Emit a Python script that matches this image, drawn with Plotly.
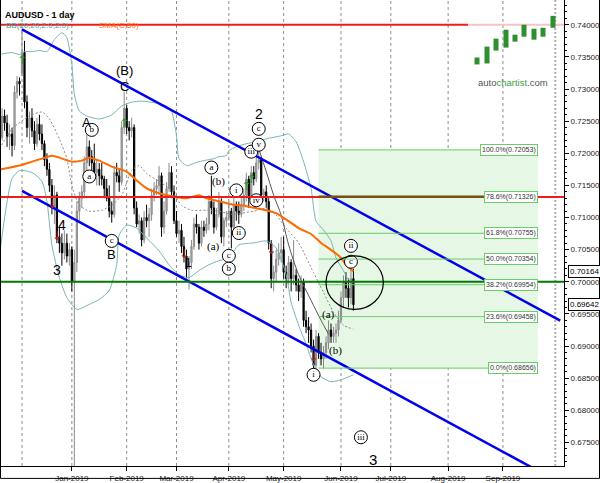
import pandas as pd
import plotly.graph_objects as go

# ---------------- calendar (trading days, weekends + 2 holidays removed) ----------------
HOLIDAYS = ["2018-12-25", "2019-01-01"]
cal = [d.strftime("%Y-%m-%d") for d in pd.bdate_range("2018-11-19", "2019-10-31")
       if d.strftime("%Y-%m-%d") not in HOLIDAYS]
ORIGIN = cal.index("2018-12-03")
pos = {d: i - ORIGIN for i, d in enumerate(cal)}
LAST_BAR = "2019-06-10"
bar_dates = [d for d in cal if d <= LAST_BAR]

# ---------------- OHLC ----------------
opens = [
    .7290, .7305, .7225, .7258, .7247, .7226, .7230, .7212, .7295, .7312,
    .7325, .7357, .7280, .7240, .7255, .7235, .7215, .7245, .7230, .7215,
    .7190, .7175, .7150, .7115, .7135, .7070, .7060, .7045, .7060, .7040,
    .7050, .7000, .7030, .7110, .7130, .7140, .7185, .7210, .7195, .7185, .7170,
    .7175, .7165, .7160, .7145, .7130, .7110, .7105, .7170, .7165, .7155, .7240,
    .7270, .7240, .7235, .7240, .7115, .7090, .7095, .7065, .7100, .7095,
    .7105, .7135, .7145, .7150, .7165, .7085, .7110, .7145, .7170, .7140,
    .7095, .7075, .7080, .7055, .7040, .7020, .7030, .7055, .7090, .7085, .7060,
    .7085, .7080, .7090, .7125, .7115, .7085, .7105, .7125, .7070, .7095,
    .7100, .7110, .7085, .7120, .7110, .7105, .7120, .7135, .7160, .7130, .7170,
    .7160, .7185, .7190, .7135, .7140, .7125, .7060, .7005, .7015, .7035, .7045,
    .7050, .7015, .7005, .7030, .7005, .7010, .6995, .6985, .7000, .6940, .6930, .6925,
    .6900, .6870, .6915, .6890, .6880, .6890, .6905, .6925, .6915, .6920, .6925,
    .6940, .6975, .7000, .6990, .6975, .7005,
]
highs = [
    .7315, .7310, .7270, .7268, .7260, .7245, .7240, .7305, .7320, .7318,
    .7394, .7375, .7290, .7265, .7270, .7250, .7255, .7260, .7245, .7220,
    .7200, .7185, .7160, .7150, .7140, .7085, .7075, .7080, .7075, .7060,
    .7055, .7050, .7125, .7140, .7150, .7195, .7236, .7220, .7205, .7215, .7190,
    .7185, .7185, .7165, .7160, .7150, .7125, .7180, .7185, .7175, .7250, .7296,
    .7275, .7250, .7255, .7245, .7125, .7105, .7100, .7110, .7120, .7115,
    .7145, .7155, .7160, .7180, .7170, .7125, .7155, .7185, .7180, .7150,
    .7110, .7095, .7090, .7070, .7050, .7040, .7065, .7100, .7105, .7090, .7095,
    .7095, .7100, .7135, .7165, .7125, .7115, .7140, .7130, .7100, .7110,
    .7125, .7115, .7135, .7125, .7125, .7130, .7145, .7170, .7165, .7180, .7180,
    .7195, .7206, .7195, .7145, .7150, .7130, .7065, .7025, .7050, .7060, .7070,
    .7070, .7025, .7040, .7035, .7065, .7020, .7005, .7010, .7005, .6955, .6945, .6935,
    .6910, .6925, .6920, .6905, .6900, .6915, .6940, .6935, .6930, .6935, .6955,
    .6985, .7010, .7015, .7005, .7020, .7020,
]
lows = [
    .7270, .7215, .7220, .7235, .7210, .7205, .7195, .7205, .7285, .7290,
    .7320, .7270, .7225, .7215, .7225, .7205, .7210, .7220, .7205, .7180,
    .7165, .7140, .7105, .7090, .7060, .7045, .7025, .7035, .7030, .7025,
    .6985, .6712, .7015, .7095, .7115, .7130, .7170, .7180, .7165, .7160, .7150,
    .7150, .7150, .7130, .7125, .7100, .7092, .7100, .7155, .7140, .7150, .7230,
    .7230, .7220, .7225, .7105, .7085, .7075, .7055, .7060, .7085, .7070,
    .7095, .7125, .7135, .7135, .7070, .7075, .7105, .7140, .7130, .7090,
    .7070, .7060, .7045, .7030, .7005, .6988, .7020, .7050, .7075, .7050, .7055,
    .7070, .7075, .7080, .7105, .7075, .7080, .7100, .7060, .7055, .7085,
    .7095, .7052, .7080, .7095, .7090, .7100, .7110, .7125, .7115, .7125, .7150,
    .7155, .7175, .7125, .7125, .7115, .7050, .6990, .6985, .7000, .7025, .7030,
    .7005, .6990, .6995, .6985, .6995, .6985, .6970, .6975, .6930, .6920, .6905, .6890,
    .6865, .6865, .6880, .6870, .6865, .6880, .6895, .6905, .6905, .6905, .6915,
    .6935, .6960, .6975, .6960, .6965, .6955,
]
closes = [
    .7305, .7225, .7258, .7247, .7226, .7230, .7212, .7295, .7312, .7308,
    .7357, .7280, .7240, .7255, .7235, .7215, .7245, .7230, .7215, .7190,
    .7175, .7150, .7115, .7135, .7070, .7060, .7045, .7060, .7040, .7050,
    .7000, .7030, .7110, .7130, .7140, .7185, .7210, .7195, .7185, .7170, .7175,
    .7165, .7160, .7145, .7130, .7110, .7105, .7170, .7165, .7155, .7240, .7270,
    .7240, .7235, .7240, .7115, .7090, .7095, .7065, .7100, .7095, .7105,
    .7135, .7145, .7150, .7165, .7085, .7110, .7145, .7170, .7140, .7095,
    .7075, .7080, .7055, .7040, .7020, .7030, .7055, .7090, .7085, .7060, .7085,
    .7080, .7090, .7125, .7115, .7085, .7105, .7125, .7070, .7095, .7100,
    .7110, .7085, .7120, .7110, .7105, .7120, .7135, .7160, .7130, .7170, .7160,
    .7185, .7190, .7135, .7140, .7125, .7060, .7005, .7015, .7035, .7045, .7050,
    .7015, .7005, .7030, .7005, .7010, .6995, .6985, .7000, .6940, .6930, .6925, .6900,
    .6870, .6915, .6890, .6880, .6890, .6905, .6925, .6915, .6920, .6925, .6940,
    .6975, .7000, .6990, .6975, .7005, .69642,
]

# ---------------- indicators ----------------
sma_dates = ["2018-11-20", "2018-11-30", "2018-12-07", "2018-12-13", "2018-12-19", "2018-12-24",
             "2019-01-02", "2019-01-08", "2019-01-11", "2019-01-17", "2019-01-24", "2019-02-01",
             "2019-02-07", "2019-02-13", "2019-02-20", "2019-02-27", "2019-03-07", "2019-03-14",
             "2019-03-19", "2019-03-26", "2019-04-02", "2019-04-10", "2019-04-16", "2019-04-22",
             "2019-04-26", "2019-05-03", "2019-05-09", "2019-05-16", "2019-05-22", "2019-05-28",
             "2019-06-03", "2019-06-05", "2019-06-10"]
sma_vals = [0.71747, 0.71809, 0.71870, 0.71917, 0.71963, 0.71932,
            0.71870, 0.71886, 0.71932, 0.71886, 0.71793, 0.71716,
            0.71577, 0.71454, 0.71377, 0.71330, 0.71299, 0.71346,
            0.71299, 0.71253, 0.71207, 0.71176, 0.71145, 0.71114,
            0.71068, 0.70944, 0.70836, 0.70744, 0.70605, 0.70497,
            0.70373, 0.70265, 0.70164]

bbu_dates = ["2018-11-20", "2018-11-27", "2018-11-30", "2018-12-04", "2018-12-07", "2018-12-12",
             "2018-12-17", "2018-12-20", "2018-12-26", "2018-12-28", "2019-01-02", "2019-01-03",
             "2019-01-07", "2019-01-10", "2019-01-17", "2019-01-24", "2019-01-30", "2019-02-05",
             "2019-02-11", "2019-02-19", "2019-02-25", "2019-02-27", "2019-03-01", "2019-03-04",
             "2019-03-07", "2019-03-14", "2019-03-22", "2019-03-26", "2019-03-29", "2019-04-01",
             "2019-04-04", "2019-04-10", "2019-04-16", "2019-04-22", "2019-04-30", "2019-05-03",
             "2019-05-08", "2019-05-13", "2019-05-16", "2019-05-20", "2019-05-23", "2019-05-28",
             "2019-05-30", "2019-06-04", "2019-06-06", "2019-06-10"]
bbu_vals = [0.73537, 0.73568, 0.73537, 0.73583, 0.73583, 0.73599,
            0.73583, 0.73769, 0.73877, 0.73799, 0.73383, 0.72920,
            0.72657, 0.72580, 0.72534, 0.72596, 0.72735, 0.72796,
            0.72812, 0.72781, 0.72735, 0.72657, 0.72272, 0.71917,
            0.71809, 0.71870, 0.71917, 0.71948, 0.71963, 0.72040,
            0.72102, 0.72148, 0.72179, 0.72225, 0.72272, 0.72302,
            0.72179, 0.71870, 0.71454, 0.70944, 0.70806, 0.70636,
            0.70373, 0.70173, 0.70034, 0.69988]

bbl_dates = ["2018-11-20", "2018-11-22", "2018-11-27", "2018-11-30", "2018-12-07", "2018-12-13",
             "2018-12-17", "2018-12-19", "2018-12-24", "2018-12-28", "2019-01-04", "2019-01-11",
             "2019-01-17", "2019-01-23", "2019-01-28", "2019-01-29", "2019-02-01", "2019-02-07",
             "2019-02-13", "2019-02-20", "2019-02-26", "2019-03-04", "2019-03-08", "2019-03-14",
             "2019-03-20", "2019-03-26", "2019-04-01", "2019-04-05", "2019-04-15", "2019-04-22",
             "2019-04-26", "2019-05-02", "2019-05-06", "2019-05-09", "2019-05-14", "2019-05-17",
             "2019-05-22", "2019-05-28", "2019-06-03", "2019-06-10"]
bbl_vals = [0.70420, 0.70991, 0.71608, 0.71731, 0.71701, 0.71562,
            0.71253, 0.70574, 0.70065, 0.69756, 0.69571, 0.69648,
            0.69725, 0.69864, 0.70265, 0.70728, 0.70883, 0.70836,
            0.70682, 0.70481, 0.70265, 0.70111, 0.70065, 0.70173,
            0.70265, 0.70327, 0.70373, 0.70574, 0.70605, 0.70636,
            0.70528, 0.70111, 0.69679, 0.69324, 0.69031, 0.68707,
            0.68522, 0.68444, 0.68475, 0.68552]

bbm_dates = ["2018-11-20", "2018-11-27", "2018-12-06", "2018-12-13", "2018-12-18", "2018-12-24",
             "2018-12-28", "2019-01-02", "2019-01-07", "2019-01-11", "2019-01-18", "2019-01-24",
             "2019-01-30", "2019-02-05", "2019-02-08", "2019-02-13", "2019-02-20", "2019-02-27",
             "2019-03-05", "2019-03-11", "2019-03-19", "2019-03-26", "2019-04-02", "2019-04-15",
             "2019-04-22", "2019-04-26", "2019-05-02", "2019-05-09", "2019-05-17", "2019-05-23",
             "2019-05-29", "2019-06-04", "2019-06-10"]
bbm_vals = [0.72071, 0.72380, 0.72580, 0.72642, 0.72534, 0.72225,
            0.71917, 0.71500, 0.71191, 0.71099, 0.71114, 0.71191,
            0.71346, 0.71731, 0.71809, 0.71685, 0.71562, 0.71423,
            0.71191, 0.71114, 0.71114, 0.71099, 0.71052, 0.71099,
            0.71145, 0.71037, 0.70836, 0.70605, 0.70142, 0.69833,
            0.69525, 0.69324, 0.69262]

curve_dates = ["2019-04-17", "2019-04-22", "2019-04-25", "2019-04-30", "2019-05-03",
               "2019-05-09", "2019-05-16", "2019-05-22", "2019-05-27"]
curve_vals = [0.72071, 0.71716, 0.71346, 0.71037, 0.70574, 0.70111, 0.69710, 0.69401, 0.69185]

# ---------------- drawn objects ----------------
chan_up_dates, chan_up_vals = ["2018-12-03", "2019-10-03"], [0.7393, 0.69395]
chan_lo_dates, chan_lo_vals = ["2018-12-03", "2019-10-03"], [0.71415, 0.66870]
red_levels = [0.74000, 0.71320]
green_level = 0.70000
fib_start, fib_end = "2019-05-21", "2019-09-20"
fib_pcts = ["100.0%", "78.6%", "61.8%", "50.0%", "38.2%", "23.6%", "0.0%"]
fib_vals = [0.72053, 0.71326, 0.70755, 0.70354, 0.69954, 0.69458, 0.68656]
sma_last, last_close = 0.70164, 0.69642
ellipse_dates, ellipse_vals = ["2019-05-24", "2019-06-26"], [0.69571, 0.70404]

big_text = ["(B)", "C", "A", "4", "3", "B", "1", "2", "3"]
big_dates = ["2019-01-31", "2019-01-31", "2019-01-10", "2018-12-26", "2018-12-21", "2019-01-24",
             "2019-03-08", "2019-04-17", "2019-06-20"]
big_vals = [0.73290, 0.73043, 0.72472, 0.70883, 0.70188, 0.70420, 0.70300, 0.72611, 0.67241]
big_size = [13, 13, 13, 14, 14, 13, 12, 14, 15]

circ_text = ["b", "a", "c", "a", "i", "iii", "v", "c", "iv", "ii", "c", "b", "ii", "c", "i", "iii"]
circ_dates = ["2019-01-14", "2019-01-11", "2019-01-24", "2019-03-21", "2019-04-04", "2019-04-12",
              "2019-04-17", "2019-04-17", "2019-04-16", "2019-04-05", "2019-04-01", "2019-04-01",
              "2019-06-07", "2019-06-07", "2019-05-17", "2019-06-13"]
circ_vals = [0.72364, 0.71639, 0.70636, 0.71778, 0.71423, 0.72025,
             0.72133, 0.72380, 0.71269, 0.70759, 0.70404, 0.70204,
             0.70559, 0.70312, 0.68552, 0.67580]

par_text = ["(b)", "(a)", "(a)", "(b)"]
par_dates = ["2019-03-26", "2019-03-22", "2019-05-27", "2019-05-30"]
par_vals = [0.71562, 0.70543, 0.69494, 0.68923]

dn_dates = ["2018-12-19", "2018-12-21", "2019-03-06", "2019-04-24", "2019-05-17"]
dn_vals = [0.71191, 0.70698, 0.70420, 0.70481, 0.68815]
up_dates = ["2018-12-03", "2019-01-31", "2019-04-10", "2019-04-12"]
up_vals = [0.73444, 0.72457, 0.71469, 0.71577]

tick_months = ["2019-01", "2019-02", "2019-03", "2019-04", "2019-05", "2019-06",
               "2019-07", "2019-08", "2019-09"]
grid_months = ["2018-12"] + tick_months
edge_month = "2019-10"

# ---------------- geometry of the panel ----------------
X_RANGE = [-8.43, 217.5]
Y_RANGE = [0.671327, 0.743858]
PLOT_W, PLOT_H = 563, 470


def P(lst):
    return [pos[d] for d in lst]


def first_day(month):
    return next(d for d in cal if d.startswith(month))


def px(xp):  # pixel -> paper x (decoration only)
    return (xp - 1) / PLOT_W


def py(yp):  # pixel -> paper y (decoration only)
    return (PLOT_H - yp) / PLOT_H


fig = go.Figure()

shapes = []
# fib zone
shapes.append(dict(type="rect", xref="x", yref="y", x0=pos[fib_start], x1=pos[fib_end],
                   y0=fib_vals[-1], y1=fib_vals[0], fillcolor="#e6f7e6", line=dict(width=0),
                   layer="below"))
# month grid lines
for m in grid_months:
    xv = pos[first_day(m)]
    shapes.append(dict(type="line", xref="x", yref="paper", x0=xv, x1=xv, y0=0, y1=1,
                       line=dict(color="#8c8c8c", width=1, dash="3px,3px"), layer="below"))
xv = pos[first_day(edge_month)]
shapes.append(dict(type="line", xref="x", yref="paper", x0=xv, x1=xv, y0=0, y1=1,
                   line=dict(color="#b0b0b0", width=2, dash="2px,2px"), layer="below"))

fig.add_trace(go.Candlestick(
    x=P(bar_dates), open=opens, high=highs, low=lows, close=closes,
    increasing=dict(line=dict(color="#8a8a8a", width=1), fillcolor="#b4b4b4"),
    decreasing=dict(line=dict(color="#000000", width=1), fillcolor="#000000"),
    whiskerwidth=0, showlegend=False, hoverinfo="skip"))

fig.add_trace(go.Scatter(x=P(bbu_dates), y=bbu_vals, mode="lines",
                         line=dict(color="#79b4b4", width=1, shape="spline", smoothing=0.6)))
fig.add_trace(go.Scatter(x=P(bbl_dates), y=bbl_vals, mode="lines",
                         line=dict(color="#79b4b4", width=1, shape="spline", smoothing=0.6)))
fig.add_trace(go.Scatter(x=P(bbm_dates), y=bbm_vals, mode="lines",
                         line=dict(color="#8a8a8a", width=1, dash="2px,2px", shape="spline",
                                   smoothing=0.6)))
fig.add_trace(go.Scatter(x=P(curve_dates), y=curve_vals, mode="lines",
                         line=dict(color="#555555", width=1, shape="spline", smoothing=0.8)))
fig.add_trace(go.Scatter(x=P(sma_dates), y=sma_vals, mode="lines",
                         line=dict(color="#ff6a00", width=2, shape="spline", smoothing=0.6)))
fig.add_trace(go.Scatter(x=P(chan_up_dates), y=chan_up_vals, mode="lines",
                         line=dict(color="#0000ee", width=2.5)))
fig.add_trace(go.Scatter(x=P(chan_lo_dates), y=chan_lo_vals, mode="lines",
                         line=dict(color="#0000ee", width=2.5)))

# horizontal levels
shapes.append(dict(type="line", xref="paper", yref="y", x0=0, x1=px(468), y0=red_levels[0],
                   y1=red_levels[0], line=dict(color="#ee1c1c", width=2)))
shapes.append(dict(type="line", xref="paper", yref="y", x0=px(468), x1=1, y0=red_levels[0],
                   y1=red_levels[0], line=dict(color="#f6c4c4", width=2)))
shapes.append(dict(type="line", xref="paper", yref="y", x0=0, x1=1, y0=red_levels[1],
                   y1=red_levels[1], line=dict(color="#ee1c1c", width=2)))
shapes.append(dict(type="line", xref="paper", yref="y", x0=0, x1=1, y0=green_level,
                   y1=green_level, line=dict(color="#007a00", width=2)))
# fib lines
for p, v in zip(fib_pcts, fib_vals):
    col = "#5b5a12" if p == "78.6%" else "#6acd6a"
    w = 2 if p == "78.6%" else 1
    shapes.append(dict(type="line", xref="x", yref="y", x0=pos[fib_start], x1=pos[fib_end],
                       y0=v, y1=v, line=dict(color=col, width=w)))
# ellipse
shapes.append(dict(type="circle", xref="x", yref="y", x0=pos[ellipse_dates[0]],
                   x1=pos[ellipse_dates[1]], y0=ellipse_vals[0], y1=ellipse_vals[1],
                   line=dict(color="black", width=1.2)))

# autochartist logo (decoration)
logo = [(477, 58, 65), (487, 47, 64), (496, 39, 51), (506, 30, 48), (515, 35, 42),
        (524, 25, 37), (534, 29, 40), (543, 28, 37), (553, 16, 28)]
for cx, t, b in logo:
    shapes.append(dict(type="rect", xref="paper", yref="paper", x0=px(cx - 2.5), x1=px(cx + 2.5),
                       y0=py(b), y1=py(t), fillcolor="#2d8f2d", line=dict(width=0)))

# frame
shapes.append(dict(type="line", xref="paper", yref="paper", x0=px(0.5), x1=px(0.5), y0=py(0),
                   y1=py(482.5), line=dict(color="black", width=1)))
shapes.append(dict(type="line", xref="paper", yref="paper", x0=px(0.5), x1=px(599.5),
                   y0=py(482.5), y1=py(482.5), line=dict(color="black", width=1)))
shapes.append(dict(type="line", xref="paper", yref="paper", x0=px(599.5), x1=px(599.5),
                   y0=py(0), y1=py(482.5), line=dict(color="black", width=1)))

# arrows
fig.add_trace(go.Scatter(x=P(dn_dates), y=dn_vals, mode="text", text=["↓"] * len(dn_dates),
                         textfont=dict(color="#b02020", size=12, family="DejaVu Sans")))
fig.add_trace(go.Scatter(x=P(up_dates), y=up_vals, mode="text", text=["↑"] * len(up_dates),
                         textfont=dict(color="#20a020", size=12, family="DejaVu Sans")))

# circled wave labels
fig.add_trace(go.Scatter(x=P(circ_dates), y=circ_vals, mode="markers+text", text=circ_text,
                         textposition="middle center",
                         marker=dict(symbol="circle", size=13, color="white",
                                     line=dict(color="black", width=1)),
                         textfont=dict(family="Liberation Serif", size=9, color="black")))

annotations = []
for t, d, v, s in zip(big_text, big_dates, big_vals, big_size):
    annotations.append(dict(x=pos[d], y=v, xref="x", yref="y", text=t, showarrow=False,
                            font=dict(family="Liberation Sans", size=s, color="black")))
for t, d, v in zip(par_text, par_dates, par_vals):
    annotations.append(dict(x=pos[d], y=v, xref="x", yref="y", text=t, showarrow=False,
                            font=dict(family="Liberation Serif", size=11, color="black")))
for p, v in zip(fib_pcts, fib_vals):
    annotations.append(dict(x=pos[fib_end], y=v, xref="x", yref="y", xanchor="right",
                            text=f"{p}({v:.5f})", showarrow=False, bgcolor="white",
                            bordercolor="#6acd6a", borderwidth=1, borderpad=1,
                            font=dict(family="Liberation Sans", size=7, color="#333")))
for v in (sma_last, last_close):
    annotations.append(dict(x=1, y=v, xref="paper", yref="y", xanchor="left", xshift=4,
                            text=f"{v:.5f}", showarrow=False, bgcolor="white",
                            bordercolor="black", borderwidth=1, borderpad=1,
                            font=dict(family="Liberation Sans", size=8, color="black")))
annotations += [
    dict(x=px(3), y=py(8), xref="paper", yref="paper", xanchor="left", text="<b>AUDUSD - 1 day</b>",
         showarrow=False, font=dict(family="Liberation Sans", size=9, color="black")),
    dict(x=px(4), y=py(19), xref="paper", yref="paper", xanchor="left", text="BB(20,20,2.0,2.0)",
         showarrow=False, font=dict(family="Liberation Sans", size=8, color="#4f9696")),
    dict(x=px(97), y=py(19), xref="paper", yref="paper", xanchor="left", text="SMA(C,50)",
         showarrow=False, font=dict(family="Liberation Sans", size=8, color="#ff6a10")),
    dict(x=px(513), y=py(76), xref="paper", yref="paper", xanchor="center",
         text="auto<span style='color:#3c9c3c'>chartist</span>.com", showarrow=False,
         font=dict(family="Liberation Sans", size=9.5, color="#555")),
]

tickvals = [pos[first_day(m)] for m in tick_months]
ticktext = [pd.Timestamp(m + "-01").strftime("%b-%Y") for m in tick_months]

fig.update_layout(
    width=600, height=483, margin=dict(l=1, r=36, t=0, b=13),
    paper_bgcolor="white", plot_bgcolor="white", showlegend=False,
    shapes=shapes, annotations=annotations,
    xaxis=dict(range=X_RANGE, showgrid=False, zeroline=False, tickvals=tickvals,
               ticktext=ticktext, ticks="outside", ticklen=4, tickcolor="black",
               showline=True, linecolor="black", linewidth=1,
               tickfont=dict(family="Liberation Sans", size=8, color="#222"),
               rangeslider=dict(visible=False), fixedrange=True),
    yaxis=dict(range=Y_RANGE, side="right", showgrid=False, zeroline=False,
               tick0=0.74, dtick=0.005, tickformat=".5f", ticks="outside", ticklen=4,
               tickcolor="black", showline=True, linecolor="black", linewidth=1,
               tickfont=dict(family="Liberation Sans", size=8, color="#222"),
               minor=dict(dtick=0.001, ticks="outside", ticklen=2, tickcolor="black"),
               fixedrange=True),
)

fig.write_html("out.html", config={"displayModeBar": False},
               post_script="document.body.style.margin='0px';"
                           "document.body.style.overflow='hidden';")
